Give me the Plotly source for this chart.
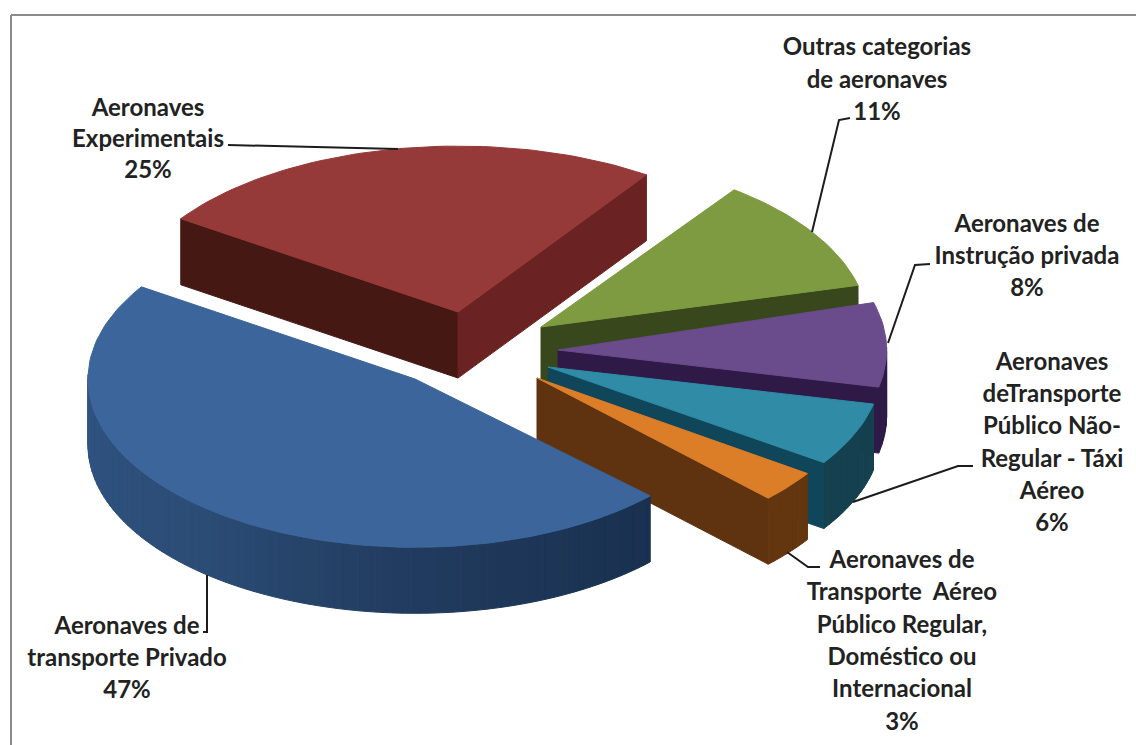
import math
import plotly.graph_objects as go

# Share of each aircraft category, in percent, clockwise from the lower right
categories = [
    "Aeronaves de transporte Privado",
    "Aeronaves Experimentais",
    "Outras categorias de aeronaves",
    "Aeronaves de Instrução privada",
    "Aeronaves deTransporte Público Não-Regular - Táxi Aéreo",
    "Aeronaves de Transporte Aéreo Público Regular, Doméstico ou Internacional",
]
values = [47, 25, 11, 8, 6, 3]

label_lines = [
    ["Aeronaves de", "transporte Privado"],
    ["Aeronaves", "Experimentais"],
    ["Outras categorias", "de aeronaves"],
    ["Aeronaves de", "Instrução privada"],
    ["Aeronaves", "deTransporte", "Público Não-", "Regular - Táxi", "Aéreo"],
    ["Aeronaves de", "Transporte\u00a0 Aéreo", "Público Regular,", "Doméstico ou", "Internacional"],
]

# Pie geometry in canvas pixels
START_ANGLE = 45.0
RADIUS_X = 327.0
RADIUS_Y = 170.0
DEPTH = 66.0

# Exploded position of each wedge's tip, and its small extra turn
tips = [(415, 379), (458, 312), (541, 327), (558, 350), (548, 367), (537, 378)]
turns = [-1.0, 0.0, 2.0, 0.0, 0.0, 0.0]
radius_scale = [(1.0, 0.99), (1.025, 0.976), (1.0, 1.0), (1.005, 1.0), (1.02, 1.0), (1.0, 1.0)]

top_colors = ["#3b659b", "#953a38", "#7e9b42", "#6a4b8b", "#2f8ba6", "#dc7e28"]
near_wall_colors = ["#172d4b", "#451813", "#39481c", "#2f1a47", "#10465a", "#5f330f"]
far_wall_colors = ["#172d4b", "#6a2322", "#39481c", "#2f1a47", "#10465a", "#5f330f"]

# Shading ramps for the curved walls: (angle, colour)
outer_stops = [
    [(30, "#172d4b"), (90, "#213b5e"), (130, "#2b4c75"), (220, "#33598a")],
    [(0, "#6a2322"), (360, "#6a2322")],
    [(0, "#39481c"), (360, "#39481c")],
    [(0, "#2f1a47"), (360, "#2f1a47")],
    [(0, "#15404f"), (360, "#15404f")],
    [(0, "#5f330f"), (360, "#63360f")],
]

# Wedges are painted back to front
paint_order = [1, 2, 3, 4, 5, 0]

# Label anchors: centre x and the y of the first line, with per-block line spacing
label_anchor = [(127, 628, 32), (148, 110, 31), (877, 49, 32.5), (1027, 226, 32), (1052, 364, 32.2), (902, 562, 32.3)]

leaders = [
    ([203, 207, 207], [632, 632, 575]),
    ([228, 398], [145, 149]),
    ([850, 839, 812], [118, 120, 232]),
    ([930, 915, 888], [264, 265, 343]),
    ([973, 958, 853], [466, 466, 502]),
    ([820, 808, 787], [567, 567, 552]),
]


def hex_to_rgb(color):
    return tuple(int(color[i:i + 2], 16) for i in (1, 3, 5))


def shade(stops, angle):
    """Colour on a piecewise-linear ramp over angle."""
    if angle <= stops[0][0]:
        return stops[0][1]
    for (a0, c0), (a1, c1) in zip(stops, stops[1:]):
        if angle <= a1:
            t = (angle - a0) / (a1 - a0)
            r0, r1 = hex_to_rgb(c0), hex_to_rgb(c1)
            return "rgb(%d,%d,%d)" % tuple(round(p + (q - p) * t) for p, q in zip(r0, r1))
    return stops[-1][1]


def rim_point(tip, scale, angle):
    rad = math.radians(angle)
    return (tip[0] + RADIUS_X * scale[0] * math.cos(rad),
            tip[1] + RADIUS_Y * scale[1] * math.sin(rad))


def polygon(points, color):
    xs = [p[0] for p in points] + [points[0][0]]
    ys = [p[1] for p in points] + [points[0][1]]
    return go.Scatter(x=xs, y=ys, mode="lines", fill="toself", fillcolor=color,
                      line=dict(color=color, width=1), hoverinfo="skip", showlegend=False)


def radial_wall(tip, rim, color):
    return polygon([tip, rim, (rim[0], rim[1] + DEPTH), (tip[0], tip[1] + DEPTH)], color)


fig = go.Figure()

# Angular extent of each wedge follows from its share
total = sum(values)
spans = []
cursor = START_ANGLE
for v in values:
    sweep = 360.0 * v / total
    spans.append((cursor, cursor + sweep))
    cursor += sweep

for i in paint_order:
    a0, a1 = spans[i][0] + turns[i], spans[i][1] + turns[i]
    tip, scale = tips[i], radius_scale[i]

    # Radial walls that face the viewer
    if math.cos(math.radians(a0)) < 0:
        fig.add_trace(radial_wall(tip, rim_point(tip, scale, a0), near_wall_colors[i]))
    if math.cos(math.radians(a1)) > 0:
        fig.add_trace(radial_wall(tip, rim_point(tip, scale, a1), far_wall_colors[i]))

    # Curved outer wall, split into short shaded strips
    steps = max(2, int((a1 - a0) / 1.5))
    angles = [a0 + (a1 - a0) * k / steps for k in range(steps + 1)]
    for b0, b1 in zip(angles, angles[1:]):
        mid = (b0 + b1) / 2
        if math.sin(math.radians(mid)) > -0.02:
            p0, p1 = rim_point(tip, scale, b0), rim_point(tip, scale, b1)
            fig.add_trace(polygon([p0, p1, (p1[0], p1[1] + DEPTH), (p0[0], p0[1] + DEPTH)],
                                  shade(outer_stops[i], mid)))

    # Top face
    rim = [rim_point(tip, scale, a) for a in angles]
    fig.add_trace(polygon([tip] + rim, top_colors[i]))

# Leader lines
for xs, ys in leaders:
    fig.add_trace(go.Scatter(x=xs, y=ys, mode="lines", line=dict(color="#1c1c1c", width=2),
                             hoverinfo="skip", showlegend=False))

# Category labels with their percentages
for lines, v, (cx, y0, gap) in zip(label_lines, values, label_anchor):
    texts = ["<b>%s</b>" % t for t in lines] + ["<b>%d%%</b>" % v]
    fig.add_trace(go.Scatter(
        x=[cx] * len(texts), y=[y0 + gap * k for k in range(len(texts))],
        mode="text", text=texts, textposition="middle center",
        textfont=dict(family="Lato", size=24, color="#222222"),
        hoverinfo="skip", showlegend=False,
    ))

fig.update_layout(
    width=1136, height=745, margin=dict(l=0, r=0, t=0, b=0),
    paper_bgcolor="white", plot_bgcolor="white",
    xaxis=dict(range=[0, 1136], visible=False, fixedrange=True),
    yaxis=dict(range=[745, 0], visible=False, fixedrange=True),
    shapes=[
        dict(type="line", xref="x", yref="y", x0=11, x1=1136, y0=15, y1=15,
             line=dict(color="#8a8a8a", width=2)),
        dict(type="line", xref="x", yref="y", x0=11, x1=11, y0=15, y1=745,
             line=dict(color="#8a8a8a", width=2)),
    ],
)

fig.write_html("out.html")
